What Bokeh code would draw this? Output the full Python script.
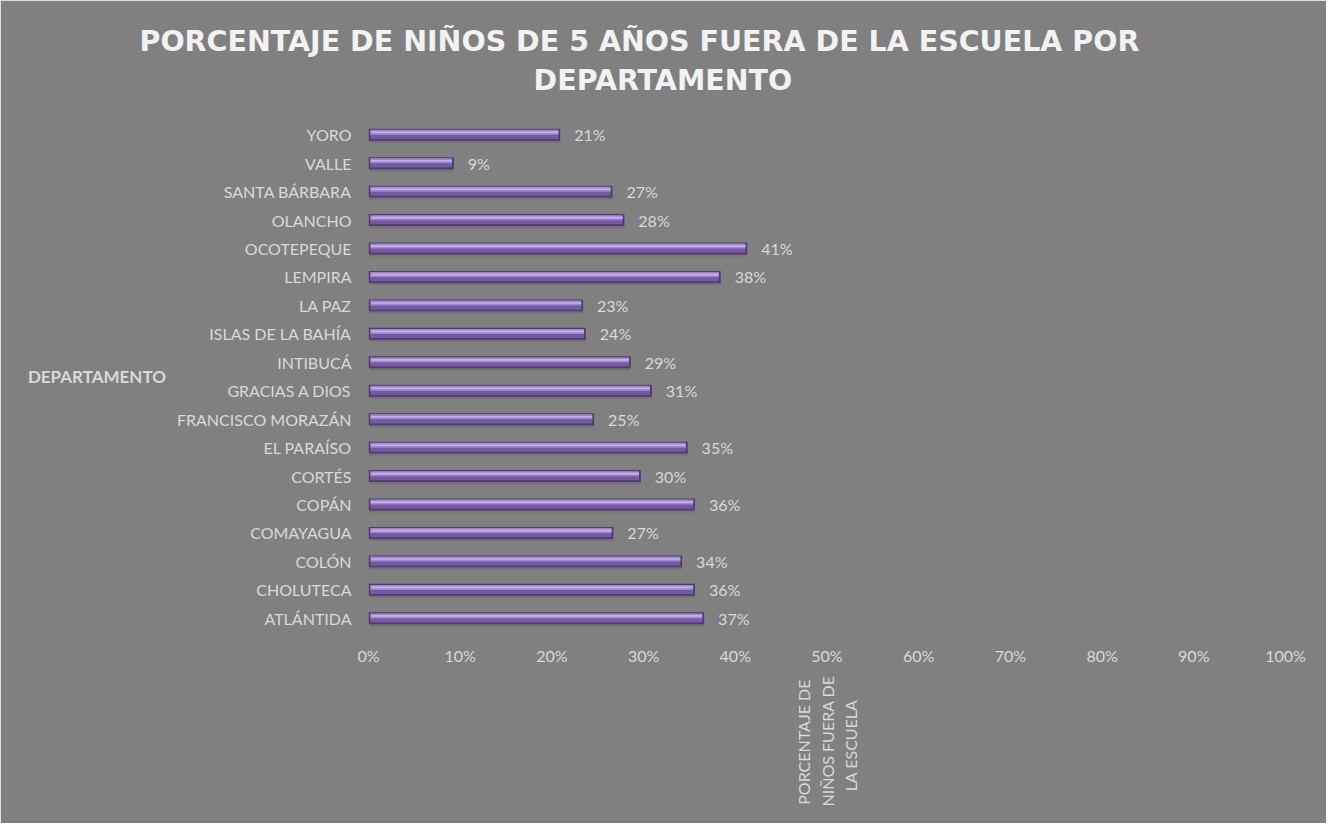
import math
from bokeh.plotting import figure
from bokeh.models import (ColumnDataSource, FactorRange, Range1d, NumeralTickFormatter,
                          FixedTicker, LabelSet, Title)
from bokeh.transform import dodge
from bokeh.core.properties import value
from bokeh.embed import file_html
from bokeh.resources import INLINE

# ---------------- data ----------------
departamentos = ["ATLÁNTIDA", "CHOLUTECA", "COLÓN", "COMAYAGUA", "COPÁN", "CORTÉS",
                 "EL PARAÍSO", "FRANCISCO MORAZÁN", "GRACIAS A DIOS", "INTIBUCÁ",
                 "ISLAS DE LA BAHÍA", "LA PAZ", "LEMPIRA", "OCOTEPEQUE", "OLANCHO",
                 "SANTA BÁRBARA", "VALLE", "YORO"]
porcentajes = [0.366, 0.356, 0.342, 0.267, 0.356, 0.297, 0.348, 0.246, 0.309, 0.286,
               0.237, 0.234, 0.384, 0.413, 0.279, 0.266, 0.093, 0.209]
etiquetas = [f"{round(v * 100)}%" for v in porcentajes]
x_ticks = [0.0, 0.1, 0.2, 0.3, 0.4, 0.5, 0.6, 0.7, 0.8, 0.9, 1.0]

titulo_1 = "PORCENTAJE DE NIÑOS DE 5 AÑOS FUERA DE LA ESCUELA POR"
titulo_2 = "DEPARTAMENTO"
eje_y = "DEPARTAMENTO"
# lines of the x-axis title (non-breaking spaces keep the short lines centred)
eje_x = "PORCENTAJE DE\u00a0\nNIÑOS FUERA DE\nLA ESCUELA" + "\u00a0" * 6

# ---------------- figure ----------------
BG = "#808080"
TXT = "#d9d9d9"
FONT = "Lato"

W, H = 1326, 823
p = figure(width=W, height=H, output_backend="svg", toolbar_location=None,
           y_range=FactorRange(*departamentos), x_range=Range1d(0, 1),
           min_border_left=368, min_border_right=41, min_border_top=120,
           min_border_bottom=191)
p.background_fill_color = BG
p.border_fill_color = BG
p.outline_line_color = BG
p.outline_line_width = 2
p.grid.visible = False

src = ColumnDataSource(dict(dep=departamentos, val=porcentajes, lab=etiquetas,
                            inner=[v - 0.002 for v in porcentajes]))

BH = 0.42
# shadow
p.hbar(y=dodge("dep", -0.07, range=p.y_range), left=0.001, right="val", height=BH,
       source=src, fill_color="#666666", fill_alpha=0.55, line_color=None)
# base (dark edge)
p.hbar(y="dep", left=0, right="val", height=BH, source=src,
       fill_color="#4f3b6d", line_color=None)
# body
p.hbar(y=dodge("dep", 0.01, range=p.y_range), left=0.002, right="inner",
       height=BH * 0.76, source=src, fill_color="#7459a3", line_color=None)
# upper lighter part
p.hbar(y=dodge("dep", BH * 0.2, range=p.y_range), left=0.002, right="inner",
       height=BH * 0.42, source=src, fill_color="#a085cc", line_color=None)
# highlight
p.hbar(y=dodge("dep", BH * 0.2, range=p.y_range), left=0.003, right="inner",
       height=BH * 0.14, source=src, fill_color="#c8b2ea", line_color=None)

# data labels
p.add_layout(LabelSet(x="val", y="dep", text="lab", source=src, x_offset=14,
                      text_baseline="middle", text_align="left",
                      text_font=value(FONT), text_font_size="16px", text_color=TXT))

# axes
xa = p.xaxis[0]
xa.ticker = FixedTicker(ticks=x_ticks)
xa.formatter = NumeralTickFormatter(format="0%")
xa.axis_line_color = None
xa.major_tick_line_color = None
xa.minor_tick_line_color = None
xa.major_tick_out = 0
xa.major_tick_in = 0
xa.major_label_standoff = 13
xa.major_label_text_font = FONT
xa.major_label_text_font_size = "16px"
xa.major_label_text_color = TXT
xa.axis_label = eje_x
xa.axis_label_orientation = math.pi / 2
xa.axis_label_standoff = 8
xa.axis_label_text_font = FONT
xa.axis_label_text_font_style = "normal"
xa.axis_label_text_font_size = "16px"
xa.axis_label_text_color = TXT
xa.axis_label_text_align = "center"
xa.axis_label_text_line_height = 1.22

ya = p.yaxis[0]
ya.axis_line_color = None
ya.major_tick_line_color = None
ya.major_tick_out = 0
ya.major_tick_in = 0
ya.major_label_standoff = 17
ya.major_label_text_font = FONT
ya.major_label_text_font_size = "16px"
ya.major_label_text_color = TXT
ya.axis_label = eje_y
ya.axis_label_orientation = "horizontal"
ya.axis_label_standoff = 8
ya.axis_label_text_font = FONT
ya.axis_label_text_font_style = "bold"
ya.axis_label_text_font_size = "17px"
ya.axis_label_text_color = TXT

# title: two lines, left edges pinned relative to the frame's left edge (page x 376)
spacer = Title(text=" ", standoff=8, text_font="Open Sans", text_font_size="10px",
               text_color=BG)
t2 = Title(text=titulo_2, align="left", offset=541 - 376, standoff=0,
           text_font="DejaVu Sans", text_font_style="bold", text_font_size="28.5px",
           text_color="#f2f2f2")
t1 = Title(text=titulo_1, align="left", offset=147 - 376, standoff=8,
           text_font="DejaVu Sans", text_font_style="bold", text_font_size="28.5px",
           text_color="#f2f2f2")
p.add_layout(spacer, "above")
p.add_layout(t2, "above")
p.add_layout(t1, "above")

open("out.html", "w").write(file_html(p, INLINE))
